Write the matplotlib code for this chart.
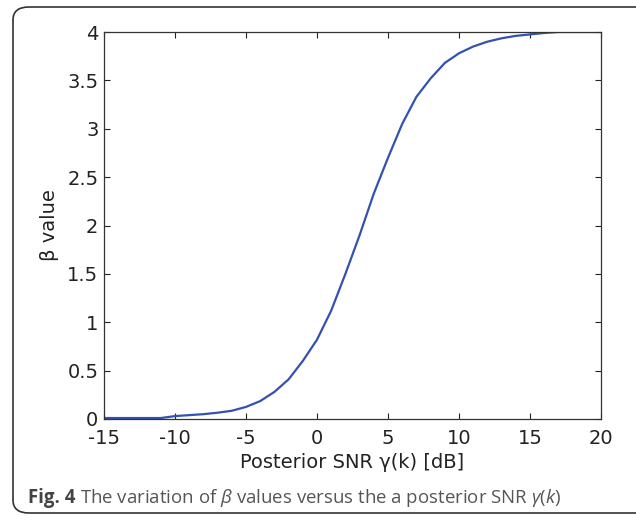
import matplotlib
matplotlib.use("Agg")
import matplotlib.pyplot as plt
from matplotlib.patches import FancyBboxPatch

# posterior SNR [dB] and beta values
snr_db = [-15, -11, -10, -9, -8, -7, -6, -5, -4, -3, -2, -1, 0, 1, 2, 3, 4, 5,
          6, 7, 8, 9, 10, 11, 12, 13, 14, 15, 16, 17, 18, 19, 20]
beta = [0.01, 0.01, 0.03, 0.04, 0.05, 0.065, 0.085, 0.125, 0.185, 0.28, 0.41, 0.6,
        0.82, 1.12, 1.5, 1.9, 2.33, 2.7, 3.05, 3.33, 3.52, 3.68, 3.78, 3.85,
        3.9, 3.935, 3.96, 3.975, 3.99, 4.0, 4.0, 4.0, 4.0]
xticks = [-15, -10, -5, 0, 5, 10, 15, 20]
yticks = [0, 0.5, 1, 1.5, 2, 2.5, 3, 3.5, 4]

plt.rcParams['font.family'] = ['DejaVu Sans']
plt.rcParams['mathtext.fontset'] = 'custom'
plt.rcParams['mathtext.it'] = 'Open Sans:italic'
plt.rcParams['mathtext.rm'] = 'Open Sans'

fig = plt.figure(figsize=(6.36, 5.2), dpi=100)
ax = fig.add_axes([104 / 636, 101 / 520, 497 / 636, 387 / 520])

ax.plot(snr_db, beta, color='#3352b0', linewidth=1.6)

ax.set_xlim(-15, 20)
ax.set_ylim(0, 4)
ax.set_xticks(xticks)
ax.set_xticklabels([f"{t:g}" for t in xticks])
ax.set_yticks(yticks)
ax.set_yticklabels([f"{t:g}" for t in yticks])
ax.tick_params(direction='in', top=True, right=True, length=4, width=0.8,
               labelsize=14, colors='#222222')
ax.tick_params(axis='x', pad=7)
ax.tick_params(axis='y', pad=4)
for sp in ax.spines.values():
    sp.set_color('#333333')
    sp.set_linewidth(0.9)

ax.set_xlabel("Posterior SNR γ(k) [dB]", fontsize=14, color='#222222', labelpad=4)
ax.set_ylabel("β value", fontsize=14, color='#222222', labelpad=6)

# rounded frame around the figure
frame = FancyBboxPatch((13 / 636, 7 / 520), 640 / 636, 506 / 520,
                       boxstyle="round,pad=0,rounding_size=0.025",
                       transform=fig.transFigure, fill=False,
                       edgecolor='#333333', linewidth=1.2)
fig.patches.append(frame)

# caption
t1 = fig.text(28 / 636, 22 / 520, "Fig. 4", fontsize=13.4, fontweight='bold',
              family='Open Sans', color='#444444', va='center')
fig.canvas.draw()
bb = t1.get_window_extent()
x2 = (bb.x1 + 5) / fig.bbox.width
fig.text(x2, 22 / 520,
         r"The variation of $\beta$ values versus the a posterior SNR $\gamma$($k$)",
         fontsize=13.4, family='Open Sans', color='#555555', va='center')

fig.savefig("out.png", dpi=100)
